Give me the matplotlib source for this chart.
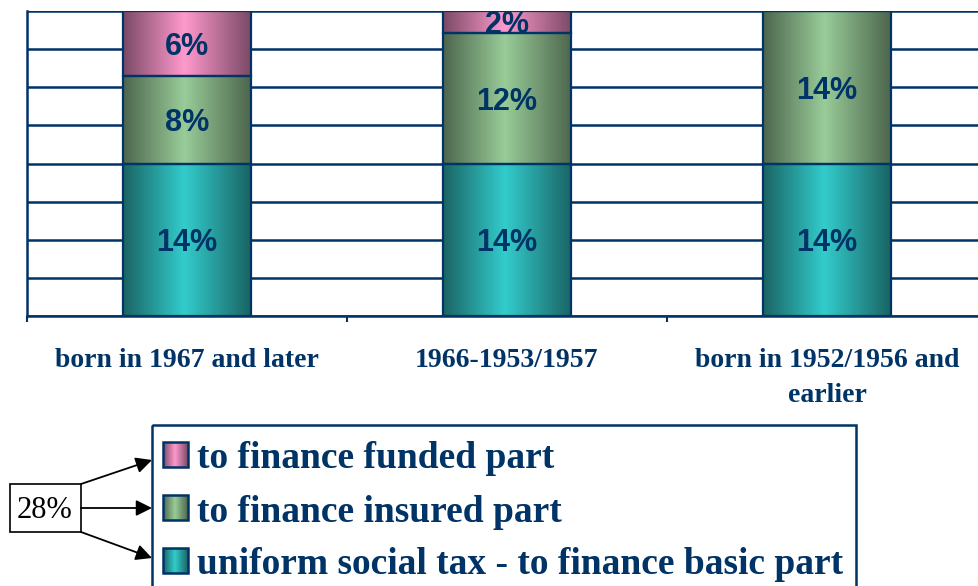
import numpy as np
import matplotlib.pyplot as plt
from matplotlib.patches import Rectangle
from matplotlib.colors import to_rgb

# data
categories = ["born in 1967 and later", "1966-1953/1957", "born in 1952/1956 and\nearlier"]
basic = [14, 14, 14]
insured = [8, 12, 14]
funded = [6, 2, 0]
series_names = ["to finance funded part", "to finance insured part",
                "uniform social tax - to finance basic part"]
total_label = "28%"

navy = "#003366"
# (dark edge, light centre) for each gradient fill
grad_basic = ("#1a6464", "#33cccc")
grad_insured = ("#4d664d", "#99cc99")
grad_funded = ("#7a4a66", "#ff99cc")


def gradient(colors, n=200):
    dark, light = np.array(to_rgb(colors[0])), np.array(to_rgb(colors[1]))
    t = np.linspace(0, 1, n)
    w = np.where(t < 0.48, t / 0.48, (1 - t) / 0.52)
    return (dark[None, :] * (1 - w[:, None]) + light[None, :] * w[:, None])[None, :, :]


def fill_gradient(ax, bars, colors):
    img = gradient(colors)
    for p in bars.patches:
        x, y, w, h = p.get_x(), p.get_y(), p.get_width(), p.get_height()
        if h <= 0:
            continue
        ax.imshow(img, extent=[x, x + w, y, y + h], aspect="auto", zorder=2,
                  interpolation="bilinear")


W, H = 979, 586
fig = plt.figure(figsize=(W / 100, H / 100), dpi=100)
ax = fig.add_axes([27 / W, (H - 316) / H, 960 / W, 305 / H])

x = np.arange(len(categories))
bw = 0.4
b1 = ax.bar(x, basic, bw, facecolor="none", edgecolor=navy, linewidth=1.6, zorder=3)
b2 = ax.bar(x, insured, bw, bottom=basic, facecolor="none", edgecolor=navy, linewidth=1.6, zorder=3)
bottom2 = np.array(basic) + np.array(insured)
b3 = ax.bar(x, funded, bw, bottom=bottom2, facecolor="none", edgecolor=navy, linewidth=1.6, zorder=3)
fill_gradient(ax, b1, grad_basic)
fill_gradient(ax, b2, grad_insured)
fill_gradient(ax, b3, grad_funded)

# segment labels
for bars, vals, bots in [(b1, basic, [0, 0, 0]), (b2, insured, basic), (b3, funded, bottom2)]:
    for xi, v, b in zip(x, vals, bots):
        if v > 0:
            ax.text(xi, b + v / 2, f"{v}%", ha="center", va="center_baseline", fontsize=22,
                    fontweight="bold", color=navy, family="Liberation Sans", zorder=4,
                    clip_on=True)

ax.set_xlim(-0.5, 2.5)
ax.set_ylim(0, 28)
ax.set_yticks(np.arange(0, 28.1, 3.5))
ax.set_yticklabels([])
ax.tick_params(axis="y", length=0)
ax.grid(axis="y", color=navy, linewidth=1.8)
ax.set_axisbelow(True)
for s in ["top", "right"]:
    ax.spines[s].set_visible(False)
for s in ["left", "bottom"]:
    ax.spines[s].set_color(navy)
    ax.spines[s].set_linewidth(1.8)

ax.set_xticks([-0.5, 0.5, 1.5, 2.5])
ax.set_xticklabels([])
ax.tick_params(axis="x", which="major", direction="out", length=4, width=1.5, color=navy)
ax.set_xticks(x, minor=True)
ax.set_xticklabels(categories, minor=True, fontsize=20, fontweight="bold",
                   color=navy, family="Liberation Serif")
ax.tick_params(axis="x", which="minor", length=0, pad=23)
for lab in ax.get_xticklabels(minor=True):
    lab.set_linespacing(1.55)

# legend and 28% annotation drawn in pixel coordinates
ov = fig.add_axes([0, 0, 1, 1])
ov.set_xlim(0, W)
ov.set_ylim(H, 0)
ov.axis("off")
ov.add_patch(Rectangle((152, 425), 704, 200, facecolor="none", edgecolor=navy,
                       linewidth=1.8, clip_on=False))
legend_cols = [grad_funded, grad_insured, grad_basic]
for i, (name, cols) in enumerate(zip(series_names, legend_cols)):
    yc = 455 + i * 53
    ov.imshow(gradient(cols), extent=[163, 188, yc + 12, yc - 13], aspect="auto",
              interpolation="bilinear", zorder=2)
    ov.add_patch(Rectangle((163, yc - 13), 25, 25, facecolor="none", edgecolor=navy,
                           linewidth=1.8, zorder=3))
    ov.text(197, yc + 4, name, ha="left", va="center", fontsize=27, fontweight="bold",
            color=navy, family="Liberation Serif")
ov.set_xlim(0, W)
ov.set_ylim(H, 0)

ov.add_patch(Rectangle((10, 484), 71, 48, facecolor="white", edgecolor="black", linewidth=1.2))
ov.text(45, 510, total_label, ha="center", va="center", fontsize=22,
        family="Liberation Serif", color="black")
for (sx, sy), (ex, ey) in [((81, 484), (152, 460)), ((81, 508), (152, 508)),
                           ((81, 532), (152, 558))]:
    ov.annotate("", xy=(ex, ey), xytext=(sx, sy),
                arrowprops=dict(arrowstyle="-|>", color="black", lw=1.3,
                                mutation_scale=24, shrinkA=0, shrinkB=0))

fig.savefig("out.png", dpi=100)
